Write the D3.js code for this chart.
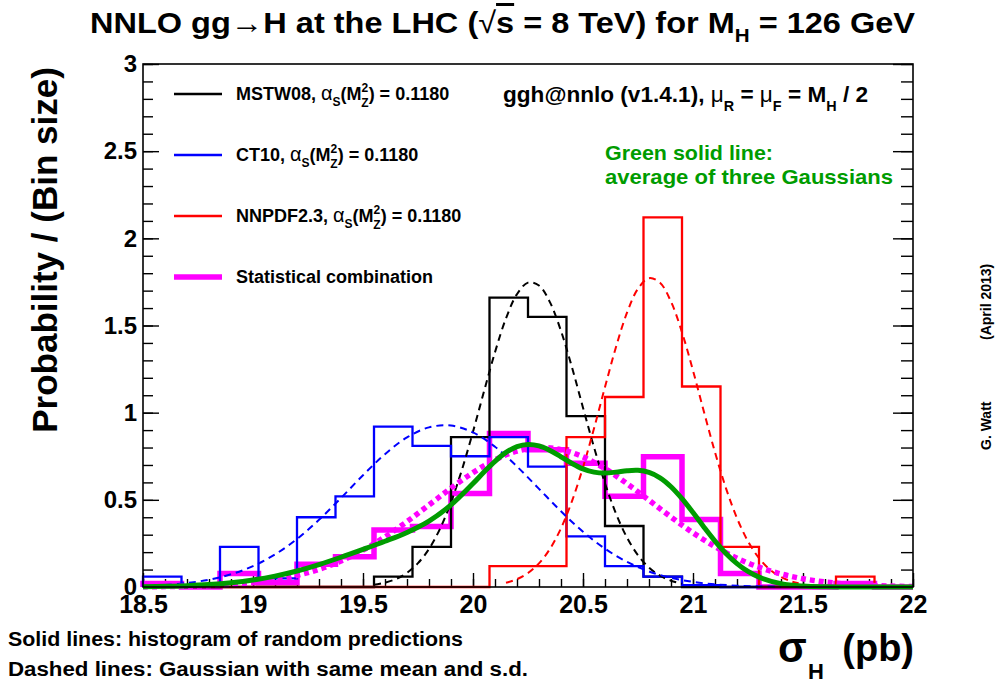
<!DOCTYPE html>
<html><head><meta charset="utf-8">
<script src="https://cdn.jsdelivr.net/npm/d3@7"></script>
<style>
body{margin:0;background:#fff;}
svg text{font-family:"Liberation Sans",Arial,Helvetica,sans-serif;font-weight:bold;fill:#000;}
</style></head><body><svg id="c" width="998" height="686"></svg>
<script>
// ---------------- data ----------------
const xEdges = [18.5,18.675,18.85,19.025,19.2,19.375,19.55,19.725,19.9,20.075,20.25,20.425,20.6,20.775,20.95,21.125,21.3,21.475,21.65,21.825,22];
const mstwHist  = [0,0,0,0,0,0,0.06,0.23,0.86,1.66,1.55,0.98,0.35,0.06,0,0,0,0,0,0];
const ct10Hist  = [0.06,0,0.23,0.05,0.40,0.52,0.92,0.81,0.75,0.86,0.69,0.29,0.12,0.06,0.01,0,0,0,0,0];
const nnpdfHist = [0,0,0,0,0,0,0,0,0,0.12,0.12,0.86,1.09,2.12,1.15,0.23,0,0,0.06,0];
const combHist  = [0.02,0,0.077,0.025,0.13,0.173,0.327,0.347,0.537,0.88,0.787,0.71,0.52,0.747,0.387,0.077,0,0,0.02,0];

const mstwGaussX = [19.55,19.6,19.65,19.7,19.75,19.8,19.85,19.9,19.95,20.0,20.05,20.1,20.15,20.2,20.25,20.3,20.35,20.4,20.45,20.5,20.55,20.6,20.65,20.7,20.75,20.8,20.85,20.9,20.95];
const mstwGaussY = [0.0128,0.0249,0.0461,0.0812,0.1367,0.2187,0.3341,0.486,0.6741,0.8906,1.1219,1.3468,1.541,1.680,1.746,1.7295,1.6326,1.4686,1.2593,1.0288,0.8015,0.5947,0.4209,0.2836,0.1824,0.1115,0.0652,0.0362,0.0192];

const ct10GaussX = [18.6,18.7,18.8,18.9,19.0,19.1,19.2,19.3,19.4,19.5,19.6,19.7,19.8,19.9,20.0,20.1,20.2,20.3,20.4,20.5,20.6,20.7,20.8,20.9,21.0,21.1,21.2,21.3,21.4];
const ct10GaussY = [0.0118,0.0229,0.042,0.0729,0.1198,0.1867,0.2756,0.3855,0.5107,0.6409,0.762,0.8582,0.9158,0.9258,0.8865,0.8043,0.6913,0.5629,0.4342,0.3173,0.2197,0.144,0.0895,0.0527,0.0294,0.0155,0.0078,0.0037,0.0017];

const nnpdfGaussX = [20.15,20.2,20.25,20.3,20.35,20.4,20.45,20.5,20.55,20.6,20.65,20.7,20.75,20.8,20.85,20.9,20.95,21.0,21.05,21.1,21.15,21.2,21.25,21.3,21.35,21.4,21.45,21.48];
const nnpdfGaussY = [0.024,0.0449,0.0801,0.1358,0.2193,0.337,0.4929,0.6863,0.9094,1.147,1.3769,1.5733,1.711,1.7712,1.7452,1.6367,1.461,1.2413,1.0037,0.7727,0.5661,0.3947,0.262,0.1656,0.0995,0.057,0.031,0.021];

const combGaussX = [18.5,18.6,18.7,18.8,18.9,19.0,19.1,19.2,19.3,19.4,19.5,19.6,19.7,19.8,19.9,20.0,20.1,20.2,20.3,20.4,20.5,20.6,20.7,20.8,20.9,21.0,21.1,21.2,21.3,21.4,21.5,21.6,21.7,21.8,21.9,22.0];
const combGaussY = [0.0011,0.0022,0.0043,0.0080,0.0144,0.0250,0.0415,0.0662,0.1015,0.1494,0.2114,0.2874,0.3753,0.4707,0.5671,0.6563,0.7297,0.7794,0.7997,0.7882,0.7463,0.6788,0.5931,0.4978,0.4014,0.3109,0.2313,0.1653,0.1136,0.0749,0.0474,0.0289,0.0169,0.0095,0.0051,0.0027];

const avgGaussX = [18.5,18.6,18.7,18.8,18.9,19.0,19.1,19.2,19.3,19.4,19.5,19.6,19.7,19.8,19.9,20.0,20.05,20.1,20.15,20.2,20.25,20.3,20.35,20.4,20.45,20.5,20.55,20.6,20.65,20.7,20.75,20.8,20.85,20.9,20.95,21.0,21.05,21.1,21.15,21.2,21.25,21.3,21.4,21.5,21.6,21.7,21.8,21.9,22.0];
const avgGaussY = [0.0019,0.0039,0.0076,0.014,0.0243,0.0399,0.0622,0.0919,0.1286,0.1707,0.2157,0.2623,0.3131,0.3782,0.4708,0.5933,0.6593,0.7211,0.7719,0.8054,0.818,0.8094,0.7832,0.7466,0.7086,0.6775,0.6589,0.6538,0.659,0.667,0.6692,0.6574,0.6265,0.5752,0.5066,0.4268,0.3431,0.2634,0.1926,0.1342,0.0891,0.0564,0.0196,0.0056,0.0013,0.0002,0,0,0];

const xMajor = [18.5,19,19.5,20,20.5,21,21.5,22];
const xTickLabels = ["18.5","19","19.5","20","20.5","21","21.5","22"];
const yMajor = [0,0.5,1,1.5,2,2.5,3];
const yTickLabels = ["0","0.5","1","1.5","2","2.5","3"];
const legendNames = ["MSTW08","CT10","NNPDF2.3"];
const legendLast = "Statistical combination";

// ---------------- drawing ----------------
const svg = d3.select("#c");
svg.append("rect").attr("width",998).attr("height",686).attr("fill","#fff");
const x = d3.scaleLinear().domain([18.5,22]).range([143,913]);
const y = d3.scaleLinear().domain([0,3]).range([587,64]);

const xMinor = d3.range(185,221).map(d=>d/10);
const yMinor = d3.range(0,31).map(d=>d/10);

function styleAxis(g){ g.select(".domain").remove(); g.selectAll("line").attr("stroke","#000").attr("stroke-width",1.4); g.attr("font-family",null).attr("font-size",null); }

svg.append("g").attr("transform","translate(143,0)").call(d3.axisLeft(y).tickValues(yMinor).tickSize(-10).tickFormat("")).call(styleAxis);
svg.append("g").attr("transform","translate(143,0)").call(d3.axisLeft(y).tickValues(yMajor).tickSizeInner(-16).tickSizeOuter(0).tickPadding(6).tickFormat((d,i)=>yTickLabels[i])).call(styleAxis)
  .selectAll("text").attr("font-size",24);
svg.append("g").attr("transform","translate(913,0)").call(d3.axisRight(y).tickValues(yMinor).tickSize(-12).tickFormat("")).call(styleAxis);
svg.append("g").attr("transform","translate(913,0)").call(d3.axisRight(y).tickValues(yMajor).tickSize(-20).tickFormat("")).call(styleAxis);
svg.append("g").attr("transform","translate(0,587)").call(d3.axisBottom(x).tickValues(xMinor).tickSize(-8).tickFormat("")).call(styleAxis);
svg.append("g").attr("transform","translate(0,587)").call(d3.axisBottom(x).tickValues(xMajor).tickSizeInner(-14).tickSizeOuter(0).tickPadding(8).tickFormat((d,i)=>xTickLabels[i])).call(styleAxis)
  .selectAll("text").attr("font-size",25);

const plot = svg.append("g");
function histPts(vals){ const p=[[xEdges[0],0]]; vals.forEach((v,i)=>p.push([xEdges[i],v])); p.push([xEdges[vals.length],vals[vals.length-1]]); p.push([xEdges[vals.length],0]); return p; }
const stepLine = d3.line().x(d=>x(d[0])).y(d=>y(d[1])).curve(d3.curveStepAfter);
const smooth = d3.line().x(d=>x(d[0])).y(d=>y(d[1])).curve(d3.curveCatmullRom.alpha(0.5));
const zip = (a,b)=>a.map((v,i)=>[v,b[i]]);

plot.append("path").attr("d",stepLine(histPts(combHist))).attr("fill","none").attr("stroke","#ff00ff").attr("stroke-width",5.5);
[[mstwHist,"#000000"],[ct10Hist,"#0000ff"],[nnpdfHist,"#ff0000"]].forEach(([h,c])=>{
  plot.append("path").attr("d",stepLine(histPts(h))).attr("fill","none").attr("stroke",c).attr("stroke-width",2.3);
});
[[mstwGaussX,mstwGaussY,"#000000"],[ct10GaussX,ct10GaussY,"#0000ff"],[nnpdfGaussX,nnpdfGaussY,"#ff0000"]].forEach(([gx,gy,c])=>{
  plot.append("path").attr("d",smooth(zip(gx,gy))).attr("fill","none").attr("stroke",c).attr("stroke-width",2).attr("stroke-dasharray","7,5");
});
plot.append("path").attr("d",smooth(zip(combGaussX,combGaussY))).attr("fill","none").attr("stroke","#ff00ff").attr("stroke-width",5.5).attr("stroke-dasharray","5,4");
plot.append("path").attr("d",smooth(zip(avgGaussX,avgGaussY))).attr("fill","none").attr("stroke","#009c00").attr("stroke-width",5);

// frame
svg.append("rect").attr("x",143).attr("y",64).attr("width",770).attr("height",523).attr("fill","none").attr("stroke","#000").attr("stroke-width",1.6);

// legend
const legColors = ["#000000","#0000ff","#ff0000"];
const legY = [94,155,216];
legendNames.forEach((n,i)=>{
  svg.append("line").attr("x1",174).attr("x2",222).attr("y1",legY[i]).attr("y2",legY[i]).attr("stroke",legColors[i]).attr("stroke-width",2.5);
  const t = svg.append("text").attr("x",236).attr("y",legY[i]+5.5).attr("font-size",18);
  t.append("tspan").text(n+", ");
  t.append("tspan").attr("font-weight","normal").attr("font-size",20).text("α");
  t.append("tspan").attr("font-size",12).attr("dy",6).text("S");
  t.append("tspan").attr("dy",-6).text("(M");
  t.append("tspan").attr("font-size",12).attr("dy",-8).text("2");
  t.append("tspan").attr("font-size",12).attr("dx",-7).attr("dy",15).text("Z");
  t.append("tspan").attr("dy",-7).text(") = 0.1180");
});
svg.append("line").attr("x1",174).attr("x2",222).attr("y1",277).attr("y2",277).attr("stroke","#ff00ff").attr("stroke-width",5.5);
svg.append("text").attr("x",236).attr("y",282.5).attr("font-size",18).text(legendLast);

// title
const title = svg.append("text").attr("x",90).attr("y",33).attr("font-size",30).attr("textLength",825).attr("lengthAdjust","spacingAndGlyphs");
title.append("tspan").text("NNLO gg");
title.append("tspan").attr("font-weight","normal").text("→");
title.append("tspan").text("H at the LHC (");
title.append("tspan").attr("font-weight","normal").text("√");
title.append("tspan").attr("text-decoration","overline").text("s");
title.append("tspan").text(" = 8 TeV) for M");
title.append("tspan").attr("font-size",19).attr("dy",9).text("H");
title.append("tspan").attr("dy",-9).text(" = 126 GeV");

// y label
svg.append("text").attr("transform","translate(57,250) rotate(-90)").attr("text-anchor","middle").attr("font-size",35).text("Probability / (Bin size)");

// ggh@nnlo
const g2 = svg.append("text").attr("x",503).attr("y",102).attr("font-size",22).attr("textLength",365).attr("lengthAdjust","spacingAndGlyphs");
g2.append("tspan").text("ggh@nnlo (v1.4.1), ");
g2.append("tspan").attr("font-weight","normal").text("μ");
g2.append("tspan").attr("font-size",14).attr("dy",9).text("R");
g2.append("tspan").attr("dy",-9).text(" =  ");
g2.append("tspan").attr("font-weight","normal").text("μ");
g2.append("tspan").attr("font-size",14).attr("dy",9).text("F");
g2.append("tspan").attr("dy",-9).text(" = M");
g2.append("tspan").attr("font-size",14).attr("dy",9).text("H");
g2.append("tspan").attr("dy",-9).text(" / 2");

// green annotation
svg.append("text").attr("x",605).attr("y",160).attr("font-size",21).attr("textLength",168).attr("lengthAdjust","spacingAndGlyphs").style("fill","#009c00").text("Green solid line:");
svg.append("text").attr("x",605).attr("y",184).attr("font-size",21).attr("textLength",288).attr("lengthAdjust","spacingAndGlyphs").style("fill","#009c00").text("average of three Gaussians");

// bottom notes
svg.append("text").attr("x",8).attr("y",646).attr("font-size",20).attr("textLength",455).attr("lengthAdjust","spacingAndGlyphs").text("Solid lines: histogram of random predictions");
svg.append("text").attr("x",8).attr("y",676).attr("font-size",20).attr("textLength",520).attr("lengthAdjust","spacingAndGlyphs").text("Dashed lines: Gaussian with same mean and s.d.");

// x label
svg.append("text").attr("x",778).attr("y",662).attr("font-size",42).attr("font-weight","normal").text("σ");
svg.append("text").attr("x",808).attr("y",679).attr("font-size",22).text("H");
svg.append("text").attr("x",914).attr("y",661).attr("text-anchor","end").attr("font-size",38).text("(pb)");

// author
svg.append("text").attr("transform","translate(991,450) rotate(-90)").attr("font-size",14).text("G. Watt");
svg.append("text").attr("transform","translate(991,340) rotate(-90)").attr("font-size",14).text("(April 2013)");
</script></body></html>
